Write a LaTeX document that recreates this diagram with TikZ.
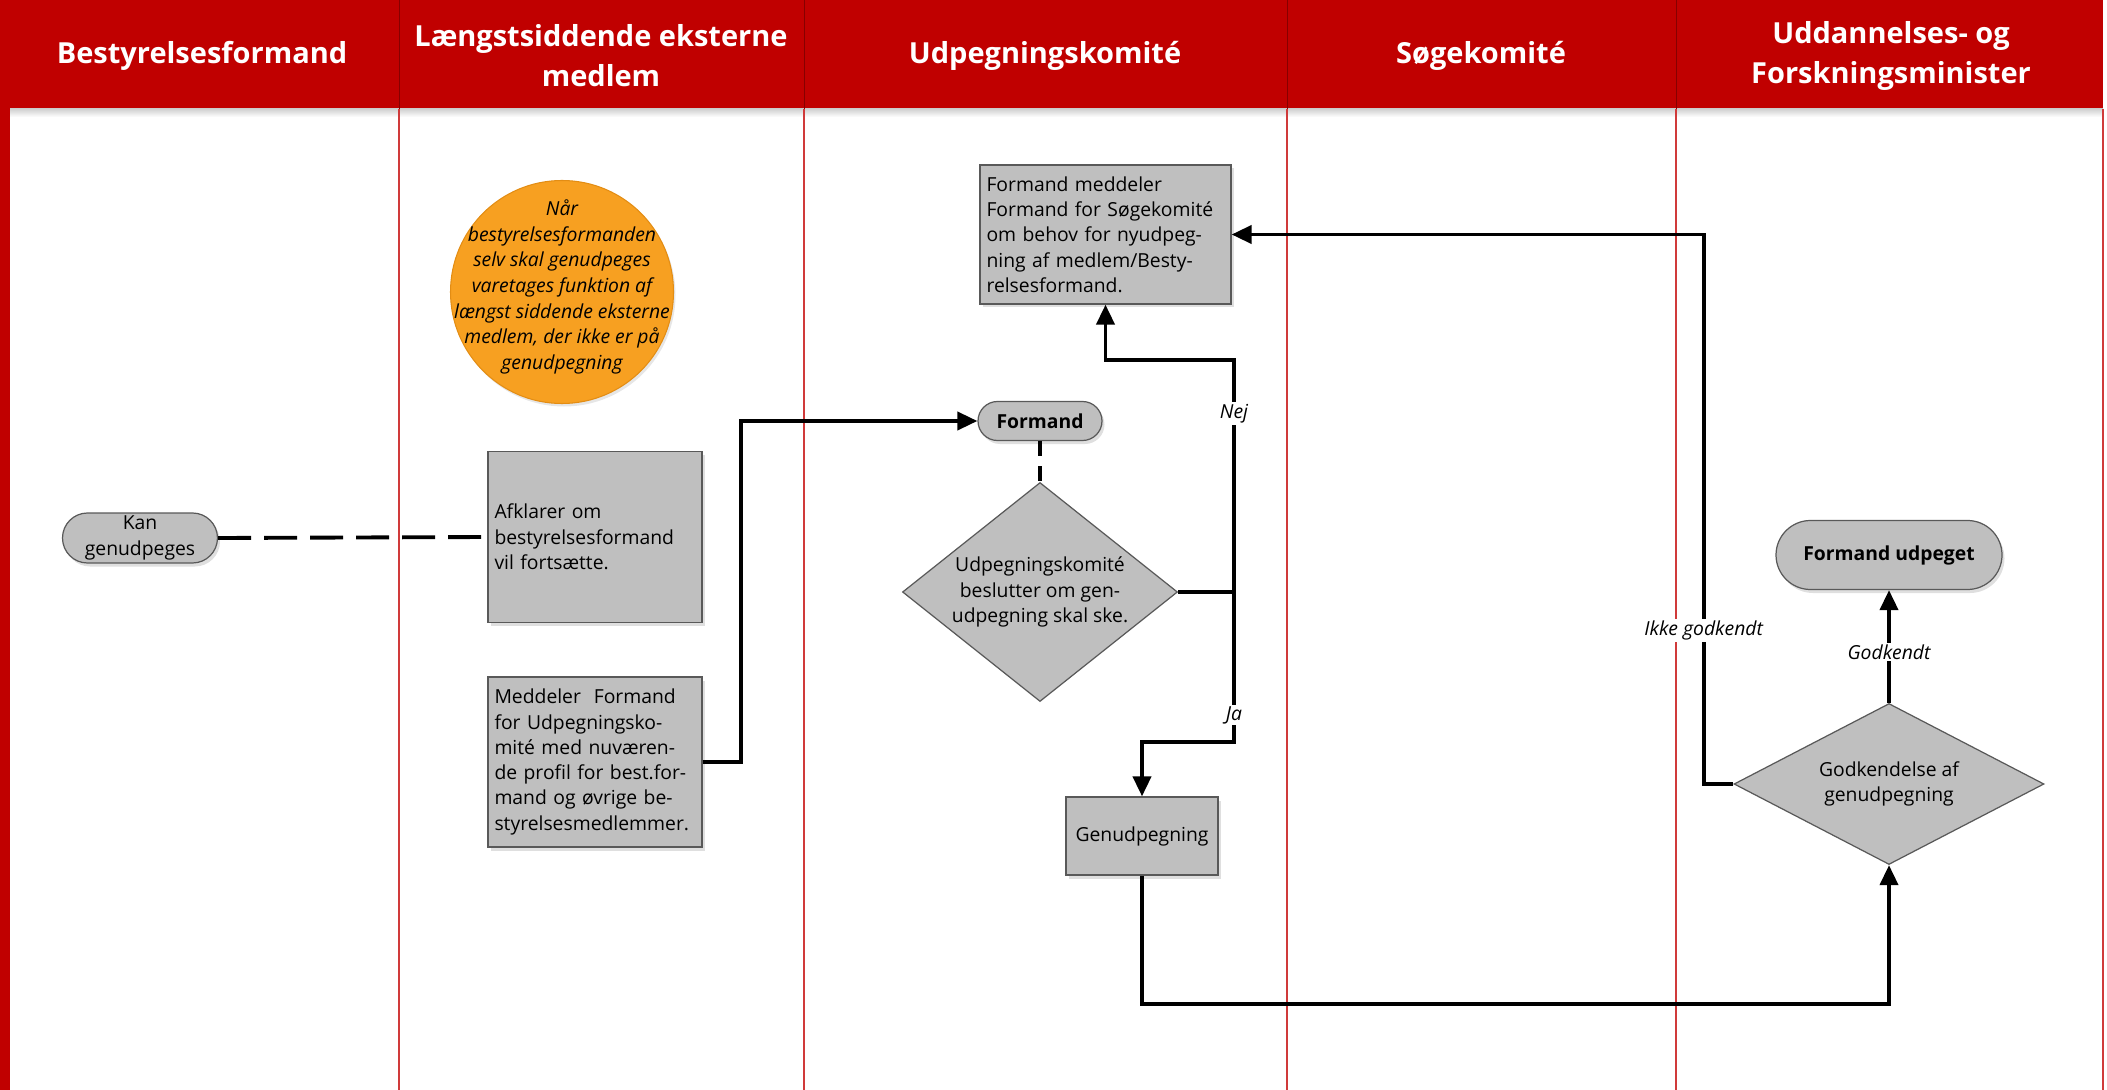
\documentclass[tikz,border=0pt]{standalone}
\usepackage{fontspec}
\setmainfont{Open Sans}
\usetikzlibrary{arrows.meta,shapes.geometric,shadows,calc}
\definecolor{hdrred}{HTML}{C00000}
\definecolor{lanered}{HTML}{D03A3A}
\definecolor{boxgray}{HTML}{BFBFBF}
\definecolor{boxline}{HTML}{595959}
\definecolor{noteorange}{HTML}{F7A021}
\definecolor{noteline}{HTML}{E38D14}
\newcommand\boxfont{\fontsize{11}{14.4}\selectfont}
\tikzset{
  hdrtxt/.style={text=white,font=\fontsize{16.5}{22.7}\selectfont\bfseries,align=center},
  graybox/.style={draw=boxline,fill=boxgray,line width=0.7pt,font=\boxfont,
    drop shadow={opacity=0.25,shadow xshift=0.5mm,shadow yshift=-0.7mm}},
  procbox/.style={graybox,rectangle,align=left,inner sep=1.3mm},
  pill/.style={graybox,rectangle,align=center,inner sep=0.5mm},
  decision/.style={draw=boxline,fill=boxgray,line width=0.7pt,diamond,inner sep=0pt,
    align=center,font=\boxfont},
  conn/.style={line width=2.2pt},
  flow/.style={conn,-{Triangle[length=4mm,width=3.6mm]}},
  dashconn/.style={conn,dash pattern=on 6.6mm off 2.6mm},
  lbl/.style={fill=white,inner sep=1pt,font=\fontsize{11}{13}\selectfont\itshape}
}
\begin{document}
\begin{tikzpicture}[x=0.2mm,y=-0.2mm]
  \useasboundingbox (0,0) rectangle (2107,1090);
  % swimlanes
  \fill[hdrred] (10,0) rectangle (2103,109);
  \fill[hdrred] (0,0) rectangle (10,1090);
  \shade[top color=black!18,bottom color=white] (10,109) rectangle (2103,117);
  \foreach \lx in {399,804,1287,1676}{
    \draw[hdrred!70!black,line width=0.5pt] (\lx,0) -- (\lx,109);
    \draw[lanered,line width=1.2pt] (\lx,109) -- (\lx,1090);
  }
  \draw[lanered,line width=1.2pt] (2103,109) -- (2103,1090);
  \node[hdrtxt] (h1) at (202,56) {Bestyrelsesformand};
  \node[hdrtxt] (h2) at (601,56) {Længstsiddende eksterne\\medlem};
  \node[hdrtxt] (h3) at (1045,56) {Udpegningskomité};
  \node[hdrtxt] (h4) at (1481,56) {Søgekomité};
  \node[hdrtxt] (h5) at (1891,56) {Uddannelses- og\\Forskningsminister};

  % note
  \node[circle,draw=noteline,fill=noteorange,line width=0.6pt,minimum size=44.6mm,
    drop shadow={opacity=0.2,shadow xshift=0.4mm,shadow yshift=-0.6mm}] (note) at (562,292) {};
  \node[align=center,font=\fontsize{11}{14.6}\selectfont\itshape] (notetxt) at ($(note)+(0,-5)$)
    {Når\\bestyrelsesformanden\\selv skal genudpeges\\varetages funktion af\\længst siddende eksterne\\medlem, der ikke er på\\genudpegning};

  % nodes
  \node[pill,rounded corners=5mm,minimum width=31mm,minimum height=10mm] (kan) at (140,538)
    {Kan\\genudpeges};
  \node[procbox,minimum width=42.8mm,minimum height=34.2mm,text width=40.2mm] (afklar) at (595,537)
    {Afklarer om\\bestyrelsesformand\\vil fortsætte.};
  \node[procbox,minimum width=42.8mm,minimum height=34mm,text width=40.2mm] (meddel) at (595,762)
    {Meddeler\ \ Formand\\for Udpegningsko-\\mité med nuværen-\\de profil for best.for-\\mand og øvrige be-\\styrelsesmedlemmer.};
  \node[pill,rounded corners=3.9mm,minimum width=24.8mm,minimum height=7.8mm,font=\boxfont\bfseries] (formand) at (1040,421)
    {Formand};
  \node[decision,aspect=1.3,minimum width=55mm,minimum height=43.8mm] (beslut) at (1040,592)
    {Udpegningskomité\\beslutter om gen-\\udpegning skal ske.};
  \node[procbox,minimum width=50.2mm,minimum height=27.8mm,text width=47.6mm] (nyud) at (1105.5,234.5)
    {Formand meddeler\\Formand for Søgekomité\\om behov for nyudpeg-\\ning af medlem/Besty-\\relsesformand.};
  \node[procbox,align=center,minimum width=30.4mm,minimum height=15.6mm] (genud) at (1142,836)
    {Genudpegning};
  \node[decision,aspect=1.9,minimum width=62mm,minimum height=32.2mm] (godk) at (1889,784)
    {Godkendelse af\\genudpegning};
  \node[pill,rounded corners=6.9mm,minimum width=45.2mm,minimum height=13.8mm,font=\boxfont\bfseries] (udpeget) at (1889,555)
    {Formand udpeget};
  \coordinate (split) at (1234,592);

  % connectors
  \draw[dashconn] (kan.east) -- (afklar.west);
  \draw[flow] (meddel.east) -- ++(38,0) |- (formand.west);
  \draw[conn,dash pattern=on 3mm off 2mm] (formand.south) -- (beslut.north);
  \draw[conn] (beslut.east) -- (split);
  \draw[flow] (split) -- node[lbl,pos=0.77]{Nej} ++(0,-232) -| (nyud.south);
  \draw[flow] (split) -- node[lbl,pos=0.82]{Ja} ++(0,150) -| (genud.north);
  \draw[flow] (genud.south) -- ++(0,128) -| (godk.south);
  \draw[flow] (godk.north) -- node[lbl,pos=0.45]{Godkendt} (udpeget.south);
  \draw[flow] (godk.west) -| node[lbl,pos=0.64]{Ikke godkendt} ($(nyud.east)+(472,0)$) -- (nyud.east);
\end{tikzpicture}
\end{document}
